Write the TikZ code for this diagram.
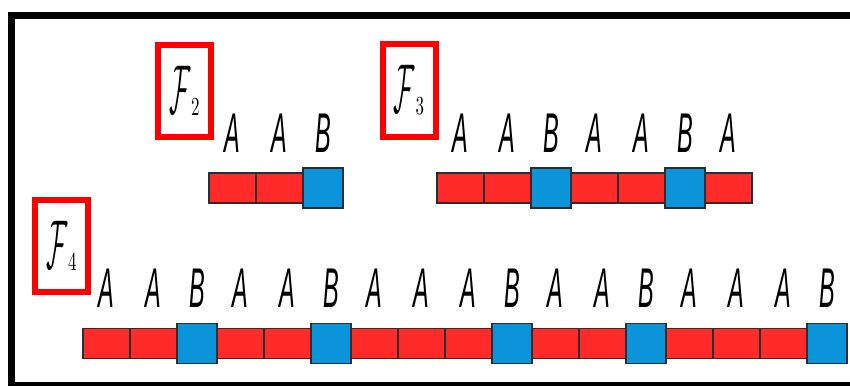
\documentclass[tikz,border=0pt]{standalone}
\usepackage{fontspec}
\usetikzlibrary{positioning}

\newfontfamily\letterfont{Liberation Sans}

\definecolor{cellred}{RGB}{255,42,42}
\definecolor{cellblue}{RGB}{12,148,218}
\definecolor{cellline}{RGB}{45,45,45}
\definecolor{boxred}{RGB}{255,0,0}

\tikzset{
	cellA/.style = {draw = cellline, line width = 1.2pt, fill = cellred,
		minimum width = 47pt, minimum height = 30pt, inner sep = 0pt, outer sep = 0pt},
	cellB/.style = {cellA, fill = cellblue, minimum width = 40pt, minimum height = 40pt},
	letter/.style = {inner sep = 0pt, font = \letterfont\itshape\fontsize{56}{56}\selectfont},
	wordbox/.style = {draw = boxred, line width = 6pt, minimum width = 53pt,
		minimum height = 92pt, inner sep = 0pt}
}

% A row of cells, one per letter, with the letter set above its cell
\newcommand{\fibword}[2]{%
	\foreach \s [count = \i, remember = \i as \j (initially 0)] in {#2} {
		\node [cell\s, right = 0pt of #1-\j] (#1-\i) {};
		\node [letter] at ([yshift = 55pt] #1-\i.center) {\scalebox{0.42}[1]{\s}};
	}%
}

% Name of a word, F with its index
\newcommand{\fibname}[1]{%
	\scalebox{2.6}[6.9]{$\mathcal{F}$}\kern0.5pt%
	\raisebox{-2pt}{\scalebox{1.7}[2.6]{#1}}}

\begin{document}
\begin{tikzpicture}[x = 1pt, y = -1pt]

	% Page area and the outer frame
	
	\useasboundingbox (0, 0) rectangle (850, 385);
	\clip (0, 0) rectangle (850, 385);
	\draw [line width = 7pt] (860, 15.5) -| (11, 385.5) -- (860, 385.5);
	
	% Names of the words
	
	\node [wordbox] (name2) at (184.5, 91) {\fibname{2}};
	\node [wordbox] (name3) at (409, 90.5) {\fibname{3}};
	\node [wordbox] (name4) at (61.5, 246) {\fibname{4}};
	
	% Where each row starts
	
	\coordinate (f2-0) at (209, 188);
	\coordinate (f3-0) at (437, 188);
	\coordinate (f4-0) at (83, 343.5);
	
	% The words
	
	\fibword{f2}{A,A,B}
	\fibword{f3}{A,A,B,A,A,B,A}
	\fibword{f4}{A,A,B,A,A,B,A,A,A,B,A,A,B,A,A,A,B}
	
\end{tikzpicture}
\end{document}
